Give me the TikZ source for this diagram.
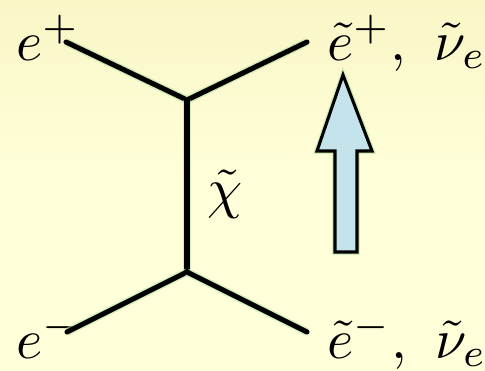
\documentclass[tikz,border=0pt]{standalone}
\usetikzlibrary{positioning}

\definecolor{bgtop}{HTML}{F9F6C6}
\definecolor{bgmid}{HTML}{FFFFDA}
\definecolor{glow}{HTML}{B8E2A8}
\definecolor{arrowfill}{HTML}{C5E3EA}

\tikzset{
    prop/.style={line width=3.6pt, line cap=round, preaction={draw=glow, line width=5.6pt, opacity=0.6}},
    lbl/.style={inner sep=0pt, anchor=base west, scale=4},
}

\begin{document}
\begin{tikzpicture}[x=0.025cm, y=-0.025cm]
    % background
    \shade[top color=bgtop, bottom color=bgmid, middle color=bgmid] (0,0) rectangle (485,370);
    \useasboundingbox (0,0) rectangle (485,370);

    % vertices and outer ends
    \coordinate (vtop) at (187,100);
    \coordinate (vbot) at (187,272);
    \coordinate (intl) at (66,42);
    \coordinate (outu) at (307,42);
    \coordinate (inel) at (67,332);
    \coordinate (outd) at (307,332);

    % labels
    \node[lbl] (ep) at (15,60) {$e^+$};
    \node[lbl] (em) at (15,358) {$e^-$};
    \node[lbl] (sup) at (326,60) {$\tilde e^+,\ \tilde\nu_e$};
    \node[lbl] (sdn) at (326,358) {$\tilde e^-,\ \tilde\nu_e$};
    \node[lbl] (chi) at (206,207) {$\tilde\chi$};

    % lines
    \draw[prop] (intl) -- (vtop);
    \draw[prop] (vtop) -- (outu);
    \draw[prop] (vtop) -- (vbot);
    \draw[prop] (inel) -- (vbot);
    \draw[prop] (vbot) -- (outd);

    % big arrow
    \draw[fill=arrowfill, line width=2.2pt, line join=miter,
          preaction={draw=glow, line width=4pt, opacity=0.6}]
        (343,75) -- (372,151) -- (357,151) -- (357,252) -- (335,252)
        -- (335,151) -- (317,151) -- cycle;
\end{tikzpicture}
\end{document}
